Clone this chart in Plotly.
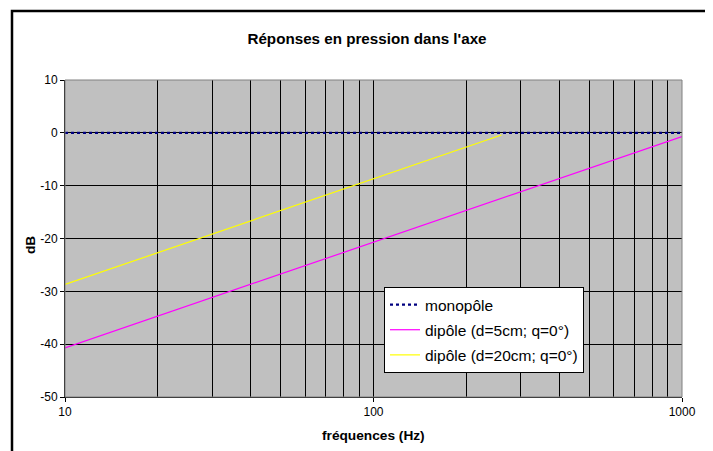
import plotly.graph_objects as go

# ---- data ----
freq_mono = [10, 20, 50, 100, 200, 500, 1000]
db_mono = [0, 0, 0, 0, 0, 0, 0]

freq_d5 = [10, 20, 30, 50, 100, 200, 300, 500, 1000]
db_d5 = [-40.7, -34.7, -31.2, -26.7, -20.7, -14.7, -11.2, -6.8, -0.7]

freq_d20 = [10, 20, 30, 50, 100, 200, 260]
db_d20 = [-28.7, -22.7, -19.2, -14.7, -8.7, -2.7, -0.4]

x_major = [10, 100, 1000]
x_major_text = ["10", "100", "1000"]
x_minor = [20, 30, 40, 50, 60, 70, 80, 90, 200, 300, 400, 500, 600, 700, 800, 900]
y_ticks = [10, 0, -10, -20, -30, -40, -50]
y_tick_text = ["10", "0", "-10", "-20", "-30", "-40", "-50"]

names = ["monopôle", "dipôle (d=5cm; q=0°)", "dipôle (d=20cm; q=0°)"]

FONT = "Liberation Sans, Arial, sans-serif"

# page is offset by the default 8px body margin
OFF = 8
W, H = 713 - OFF, 451 - OFF
PL, PR, PT, PB = 65 - OFF, 682 - OFF, 80 - OFF, 397 - OFF   # plot area in figure pixels
PW, PH = PR - PL, PB - PT

def px(xpage):
    return (xpage - 65) / PW

def py(ypage):
    return (397 - ypage) / PH

fig = go.Figure()
fig.add_trace(go.Scatter(x=freq_d5, y=db_d5, mode="lines", name=names[1],
                         line=dict(color="#FF00FF", width=1.2), legendgroup="b", legendrank=2))
fig.add_trace(go.Scatter(x=freq_d20, y=db_d20, mode="lines", name=names[2],
                         line=dict(color="#FFFF00", width=1.2), legendgroup="c", legendrank=3))
fig.add_trace(go.Scatter(x=freq_mono, y=db_mono, mode="lines", name=names[0],
                         line=dict(color="#000080", width=2.2, dash="dot"), legendgroup="a", legendrank=1))

fig.update_layout(
    width=W, height=H,
    margin=dict(l=PL, r=W - PR, t=PT, b=H - PB, autoexpand=False),
    paper_bgcolor="white",
    plot_bgcolor="#C0C0C0",
    font=dict(family=FONT, size=12, color="black"),
    title=dict(text="<b>Réponses en pression dans l'axe</b>", x=(367 - OFF) / W, xanchor="center",
               y=1 - (39 - OFF) / H, yanchor="middle", font=dict(size=15.2, family=FONT, color="black")),
    showlegend=True,
    legend=dict(x=px(384), y=py(287), xanchor="left", yanchor="top",
                bgcolor="white", bordercolor="black", borderwidth=1,
                font=dict(size=15.5, family=FONT, color="black"),
                tracegroupgap=2, traceorder="grouped"),
    xaxis=dict(type="log", range=[1, 3], tickmode="array", tickvals=x_major, ticktext=x_major_text,
               showgrid=True, gridcolor="black", gridwidth=1,
               ticks="outside", ticklen=4, tickcolor="black",
               showline=True, linecolor="black", linewidth=1, zeroline=False,
               minor=dict(tickmode="array", tickvals=x_minor, showgrid=True, gridcolor="black",
                          gridwidth=1, ticks=""),
               tickfont=dict(size=12, family=FONT)),
    yaxis=dict(range=[-50, 10], tickmode="array", tickvals=y_ticks, ticktext=y_tick_text,
               showgrid=True, gridcolor="black", gridwidth=1,
               ticks="outside", ticklen=4, tickcolor="black",
               showline=True, linecolor="black", linewidth=1, zeroline=False,
               tickfont=dict(size=12, family=FONT)),
)

# plot-area gray frame
fig.add_shape(type="rect", xref="paper", yref="paper", x0=0, x1=1, y0=0, y1=1,
              line=dict(color="#808080", width=1), layer="above")
# chart outer border
fig.add_shape(type="rect", xref="paper", yref="paper",
              x0=px(12), x1=1.2, y0=-0.4, y1=py(11),
              line=dict(color="black", width=2.5))

fig.add_annotation(text="<b>fréquences (Hz)</b>", xref="paper", yref="paper",
                   x=px(373.5), y=py(436), xanchor="center", yanchor="middle",
                   showarrow=False, font=dict(size=13.7, family=FONT, color="black"))
fig.add_annotation(text="<b>dB</b>", xref="paper", yref="paper", textangle=-90,
                   x=px(30), y=py(245), xanchor="center", yanchor="middle",
                   showarrow=False, font=dict(size=13.7, family=FONT, color="black"))

fig.write_html("out.html")
